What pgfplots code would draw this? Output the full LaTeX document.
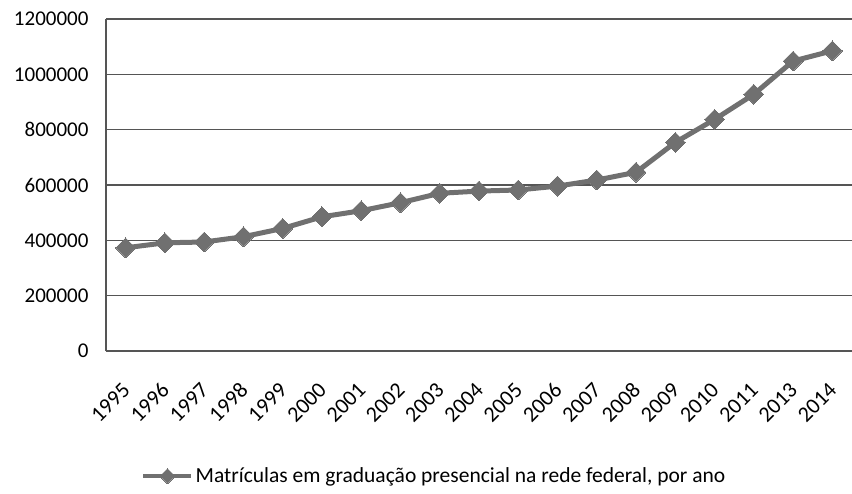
\documentclass[border=0pt]{standalone}
\usepackage{pgfplots}
\pgfplotsset{compat=1.18}
\usepackage{fontspec}
\setmainfont{Carlito}
\definecolor{serie}{RGB}{112,112,112}
\definecolor{axisc}{RGB}{85,85,85}
\begin{document}
\begin{tikzpicture}
\useasboundingbox (0,0) rectangle (852pt,493pt);
\begin{axis}[
  at={(106pt,142pt)}, anchor=south west,
  scale only axis, width=746pt, height=332pt,
  font=\fontsize{21}{25}\selectfont,
  xmin=-0.5, xmax=18.5, ymin=0, ymax=1200000,
  axis lines*=left, axis line style={axisc, line width=1.6pt, -},
  ymajorgrids, grid style={axisc, line width=1.6pt},
  ytick={0,200000,...,1200000},
  scaled y ticks=false,
  yticklabel style={/pgf/number format/fixed, /pgf/number format/1000 sep={}, xshift=-14pt},
  /pgf/number format/assume math mode=true,
  xtick={0,...,18},
  xticklabels={1995,1996,1997,1998,1999,2000,2001,2002,2003,2004,2005,2006,2007,2008,2009,2010,2011,2013,2014},
  xticklabel style={font=\fontsize{22}{26}\selectfont, yshift=-33pt, xshift=3pt, rotate=45, anchor=east},
  major tick length=0pt,
  legend style={at={(0.44,-0.377)}, anchor=center, draw=none, fill=none, font=\fontsize{21.5}{25}\selectfont, inner sep=0pt,
    /tikz/every even column/.append style={column sep=0pt}},
  legend image code/.code={\draw[line width=4.5pt, mark size=5.3pt, mark repeat=2, mark phase=2] plot coordinates {(0pt,0pt) (24pt,0pt) (48pt,0pt)};},
  legend cell align=left,
]
\addplot[serie, line width=5pt, mark=square*, mark size=7pt, mark repeat=1,
  mark options={rotate=45, fill=serie, draw=serie, line width=0pt}] coordinates {
(0,373000) (1,391000) (2,394000) (3,413000) (4,443000) (5,485000) (6,507000)
(7,536000) (8,570000) (9,578000) (10,582000) (11,596000) (12,618000) (13,646000)
(14,754000) (15,837000) (16,928000) (17,1048000) (18,1085000)
};
\addlegendentry{Matrículas em graduação presencial na rede federal, por ano}
\end{axis}
\end{tikzpicture}
\end{document}
